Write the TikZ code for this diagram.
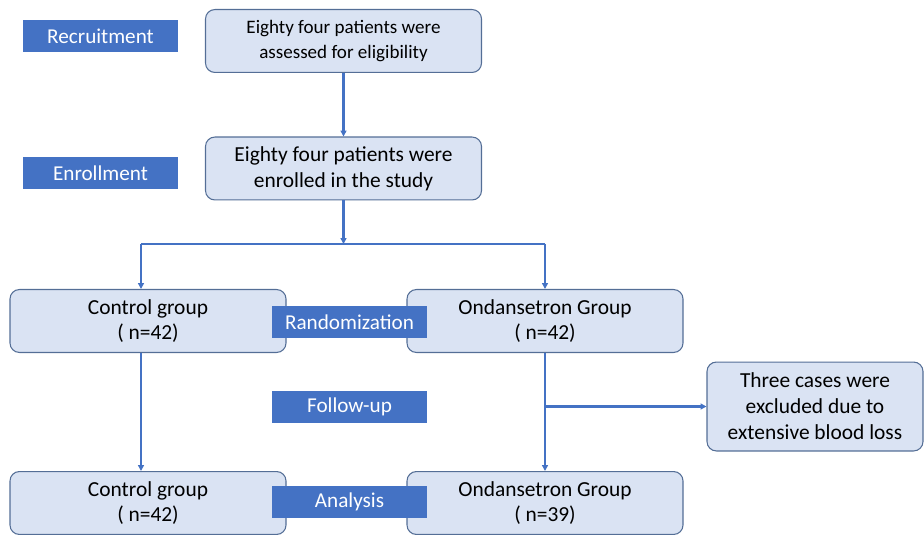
\documentclass[tikz,border=0pt]{standalone}
\usepackage{fontspec}
\setmainfont{Carlito}
\usetikzlibrary{arrows.meta}
\definecolor{stage}{RGB}{68,114,196}
\definecolor{boxfill}{RGB}{218,227,243}
\definecolor{boxline}{RGB}{84,110,150}
\begin{document}
\begin{tikzpicture}[x=0.85pt, y=-0.85pt, every node/.style={inner sep=0pt}]
  \tikzset{stagebox/.style={rectangle, fill=stage, text=white, minimum width=131.75pt, minimum height=27.2pt, font=\fontsize{18}{20}\selectfont}}
  \tikzset{info/.style={rectangle, rounded corners=8pt, draw=boxline, line width=0.9pt, fill=boxfill, align=center, minimum width=234.6pt, minimum height=53.5pt, font=\fontsize{18.2}{22}\selectfont}}
  \tikzset{L/.style={draw=stage, line width=2pt}}
  \tikzset{A/.style={draw=stage, line width=2pt, -{Triangle[length=5pt,width=5pt]}}}
  \useasboundingbox (0,0) rectangle (924,535);
  \node[info, font=\fontsize{16.2}{21.5}\selectfont] (assess) at (343.5,41.0) {Eighty four patients were\\assessed for eligibility};
  \node[info] (enrol) at (343.5,168.5) {Eighty four patients were\\enrolled in the study};
  \node[info] (ctrl) at (148.0,321.0) {Control group\\( n=42)};
  \node[info] (ondan) at (545.0,321.0) {Ondansetron Group\\( n=42)};
  \node[info, minimum width=183.6pt, minimum height=75.6pt] (excl) at (815.0,406.5) {Three cases were\\excluded due to\\extensive blood loss};
  \node[info] (ctrlB) at (148.0,503.0) {Control group\\( n=42)};
  \node[info] (ondanB) at (545.0,503.0) {Ondansetron Group\\( n=39)};
  \node[stagebox] (recruit) at (100.5,36.0) {Recruitment};
  \node[stagebox] (enroll) at (100.5,173.0) {Enrollment};
  \node[stagebox] (random) at (349.5,322.0) {Randomization};
  \node[stagebox] (follow) at (349.5,407.0) {Follow-up};
  \node[stagebox] (analys) at (349.5,502.0) {Analysis};
  \coordinate (split) at (343.5,244);
  \coordinate (splitL) at (141,244);
  \coordinate (splitR) at (545,244);
  % connectors
  \draw[A] (assess) -- (enrol);
  \draw[A] (enrol) -- (split);
  \draw[L] (splitL) -- (splitR);
  \draw[A] (splitL) -- (splitL |- ctrl.north);
  \draw[A] (splitR) -- (ondan);
  \draw[A] (splitL |- ctrl.south) -- (splitL |- ctrlB.north);
  \draw[A] (ondan) -- (ondanB);
  \draw[A] (ondan.south |- excl.west) -- (excl);
\end{tikzpicture}
\end{document}
